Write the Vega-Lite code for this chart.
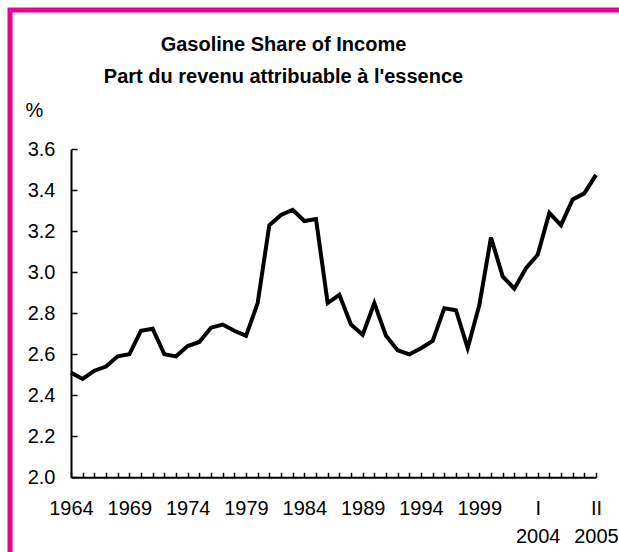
{
  "$schema": "https://vega.github.io/schema/vega-lite/v6.json",
  "width": 614,
  "height": 547,
  "autosize": {"type": "none"},
  "padding": {"left": 10, "top": 10, "right": -5, "bottom": -5},
  "background": "white",
  "view": {"stroke": "#EC008C", "strokeWidth": 5, "fill": "white"},
  "title": {
    "text": ["Gasoline Share of Income", "Part du revenu attribuable à l'essence"],
    "font": "Liberation Sans",
    "fontSize": 20,
    "fontWeight": "bold",
    "color": "black",
    "anchor": "middle",
    "frame": "group",
    "baseline": "alphabetic",
    "offset": -93.2,
    "lineHeight": 32,
    "dx": -33.5
  },
  "data": {
    "values": [
      {"period": "1964", "share": 2.51},
      {"period": "1965", "share": 2.48},
      {"period": "1966", "share": 2.52},
      {"period": "1967", "share": 2.54},
      {"period": "1968", "share": 2.59},
      {"period": "1969", "share": 2.60},
      {"period": "1970", "share": 2.715},
      {"period": "1971", "share": 2.725},
      {"period": "1972", "share": 2.60},
      {"period": "1973", "share": 2.59},
      {"period": "1974", "share": 2.64},
      {"period": "1975", "share": 2.66},
      {"period": "1976", "share": 2.73},
      {"period": "1977", "share": 2.745},
      {"period": "1978", "share": 2.715},
      {"period": "1979", "share": 2.69},
      {"period": "1980", "share": 2.85},
      {"period": "1981", "share": 3.23},
      {"period": "1982", "share": 3.28},
      {"period": "1983", "share": 3.305},
      {"period": "1984", "share": 3.25},
      {"period": "1985", "share": 3.26},
      {"period": "1986", "share": 2.85},
      {"period": "1987", "share": 2.89},
      {"period": "1988", "share": 2.745},
      {"period": "1989", "share": 2.695},
      {"period": "1990", "share": 2.85},
      {"period": "1991", "share": 2.69},
      {"period": "1992", "share": 2.62},
      {"period": "1993", "share": 2.60},
      {"period": "1994", "share": 2.63},
      {"period": "1995", "share": 2.665},
      {"period": "1996", "share": 2.825},
      {"period": "1997", "share": 2.815},
      {"period": "1998", "share": 2.63},
      {"period": "1999", "share": 2.84},
      {"period": "2000", "share": 3.17},
      {"period": "2001", "share": 2.98},
      {"period": "2002", "share": 2.92},
      {"period": "2003", "share": 3.02},
      {"period": "2004 Q1", "share": 3.085},
      {"period": "2004 Q2", "share": 3.29},
      {"period": "2004 Q3", "share": 3.23},
      {"period": "2004 Q4", "share": 3.355},
      {"period": "2005 Q1", "share": 3.385},
      {"period": "2005 Q2", "share": 3.475}
    ]
  },
  "mark": {"type": "line", "color": "black", "strokeWidth": 4, "strokeJoin": "miter"},
  "encoding": {
    "x": {
      "field": "period",
      "type": "ordinal",
      "sort": null,
      "scale": {"type": "point", "range": [61, 586], "padding": 0},
      "axis": {
        "orient": "bottom",
        "offset": -79.7,
        "title": null,
        "labelAngle": 0,
        "labelOverlap": false,
        "labelExpr": "datum.value == '2004 Q1' ? ['I', '2004'] : datum.value == '2005 Q2' ? ['II', '2005'] : (length(datum.value) == 4 && (toNumber(datum.value) - 1964) % 5 == 0 ? datum.value : '')",
        "tickSize": -5,
        "tickWidth": 1.5,
        "tickColor": "black",
        "domainColor": "black",
        "domainWidth": 2,
        "labelPadding": 26,
        "labelBaseline": "top",
        "labelLineHeight": 28,
        "labelFont": "Liberation Sans",
        "labelFontSize": 20,
        "labelColor": "black",
        "grid": false
      }
    },
    "y": {
      "field": "share",
      "type": "quantitative",
      "scale": {"domain": [2, 3.6], "range": [467.3, 139.3], "nice": false, "zero": false},
      "axis": {
        "orient": "left",
        "offset": -61,
        "values": [2.0, 2.2, 2.4, 2.6, 2.8, 3.0, 3.2, 3.4, 3.6],
        "format": ".1f",
        "tickSize": -6,
        "tickWidth": 1.5,
        "tickColor": "black",
        "domainColor": "black",
        "domainWidth": 2,
        "labelPadding": 22,
        "labelFont": "Liberation Sans",
        "labelFontSize": 20,
        "labelColor": "black",
        "grid": false,
        "title": "%",
        "titleAngle": 0,
        "titleX": -46,
        "titleY": 106.7,
        "titleAlign": "left",
        "titleBaseline": "alphabetic",
        "titleFont": "Liberation Sans",
        "titleFontSize": 20,
        "titleFontWeight": "normal",
        "titleColor": "black"
      }
    }
  }
}
